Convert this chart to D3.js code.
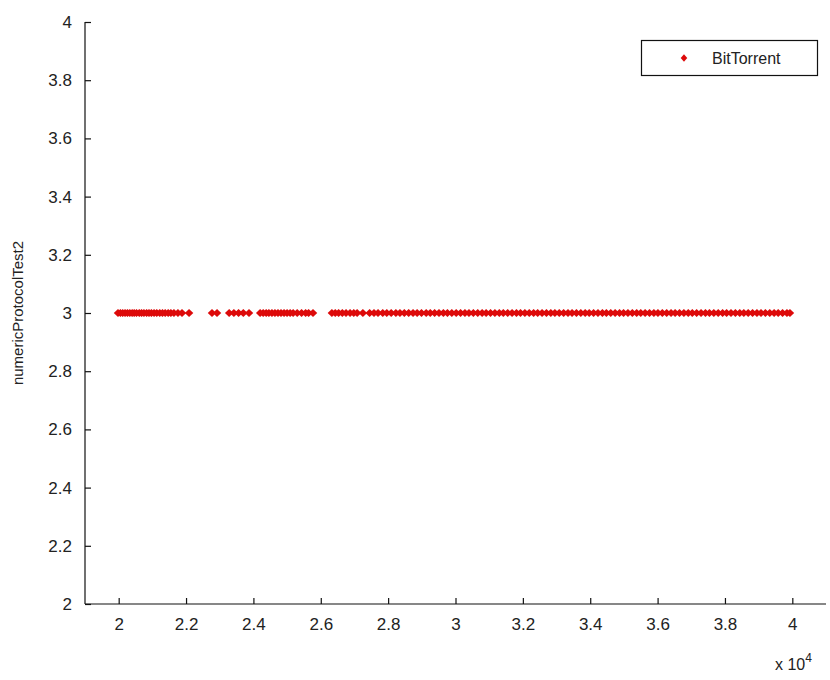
<!DOCTYPE html>
<html><head><meta charset="utf-8">
<script src="https://cdn.jsdelivr.net/npm/d3@7"></script>
<style>body{margin:0;background:#fff}svg{display:block}text{font-family:"Liberation Sans",Arial,sans-serif}</style>
</head><body><svg id="c" width="830" height="680"></svg>
<script>
const seriesName = "BitTorrent";
const yLabel = "numericProtocolTest2";
const xTicks = [20000,22000,24000,26000,28000,30000,32000,34000,36000,38000,40000];
const xTickLabels = ["2","2.2","2.4","2.6","2.8","3","3.2","3.4","3.6","3.8","4"];
const yTicks = [2,2.2,2.4,2.6,2.8,3,3.2,3.4,3.6,3.8,4];
const yTickLabels = ["2","2.2","2.4","2.6","2.8","3","3.2","3.4","3.6","3.8","4"];
const xValues = [
19980,20050,20120,20190,20260,20330,20400,20460,20530,20610,20680,20750,20830,20900,20970,21050,21130,21220,21300,21380,21470,21550,21640,21760,
21880,22090,
22770,22920,
23280,23420,23560,23700,23870,
24200,24290,24380,24460,24550,24640,24730,24820,24910,25000,25090,25180,25300,25430,25550,25640,25770,
26330,26430,26530,26640,26750,26870,26980,27080,27250,
27450,27580,27700,27840,27960,28090,28230,28350,28480,28610,28740,28860,28990,29130,29250,29380,29510,29640,29760,29890,
30020,30150,30280,30400,30530,30660,30790,30910,31040,31170,31300,31420,31550,31680,31810,31930,32060,32190,32320,32440,
32570,32700,32830,32950,33080,33210,33340,33460,33590,33720,33850,33970,34100,34230,34360,34480,34610,34740,34870,34990,
35120,35250,35380,35500,35630,35760,35890,36010,36140,36270,36400,36520,36650,36780,36910,37030,37160,37290,37420,37540,
37670,37800,37930,38050,38180,38310,38440,38560,38690,38820,38950,39070,39200,39330,39460,39580,39710,39840,39930
];
const yValues = xValues.map(() => 3);

const svg = d3.select("#c");
const L = 85, R = 826, T = 22, B = 604;
const x = d3.scaleLinear().domain([19000, 41000]).range([L, R]);
const y = d3.scaleLinear().domain([2, 4]).range([B, T]);

const xAxis = d3.axisBottom(x).tickValues(xTicks).tickFormat((d,i)=>xTickLabels[i]).tickSizeInner(-6).tickSizeOuter(0).tickPadding(14);
const yAxis = d3.axisLeft(y).tickValues(yTicks).tickFormat((d,i)=>yTickLabels[i]).tickSizeInner(-6).tickSizeOuter(0).tickPadding(13);

const gx = svg.append("g").attr("transform",`translate(0,${B})`).call(xAxis);
const gy = svg.append("g").attr("transform",`translate(${L},0)`).call(yAxis);
[gx,gy].forEach(g=>{
  g.selectAll("path").attr("stroke","#111").attr("stroke-width",1.2);
  g.selectAll("line").attr("stroke","#111").attr("stroke-width",1.2);
  g.selectAll("text").attr("font-size",17).attr("fill","#222").attr("font-family","Liberation Sans, Arial, sans-serif");
});
gx.select("path").attr("d",`M${L},0H${R}`);
gy.select("path").attr("d",`M0,${T}V${B}`);

svg.append("text").attr("transform",`translate(23,${(T+B)/2}) rotate(-90)`).attr("text-anchor","middle")
  .attr("font-size",15).attr("fill","#222").text(yLabel);

const ex = svg.append("text").attr("x",775).attr("y",670).attr("font-size",16).attr("fill","#222");
ex.append("tspan").text("x 10");
ex.append("tspan").attr("dy",-8).attr("font-size",12).text("4");

const marker = d3.symbol().type(d3.symbolDiamond).size(34);
svg.append("g").selectAll("path").data(xValues).join("path")
  .attr("d", marker)
  .attr("transform",(d,i)=>`translate(${x(d)},${y(yValues[i])}) scale(1.35,0.72)`)
  .attr("fill","#dd0a0a");

// legend
const lg = svg.append("g");
lg.append("rect").attr("x",641.5).attr("y",40.5).attr("width",176).attr("height",35).attr("fill","#fff").attr("stroke","#111").attr("stroke-width",1.2);
lg.append("path").attr("d",d3.symbol().type(d3.symbolDiamond).size(26)).attr("transform","translate(684,58) scale(1.2,0.8)").attr("fill","#dd0a0a");
lg.append("text").attr("x",712).attr("y",64).attr("font-size",16).attr("fill","#222").text(seriesName);
</script></body></html>
